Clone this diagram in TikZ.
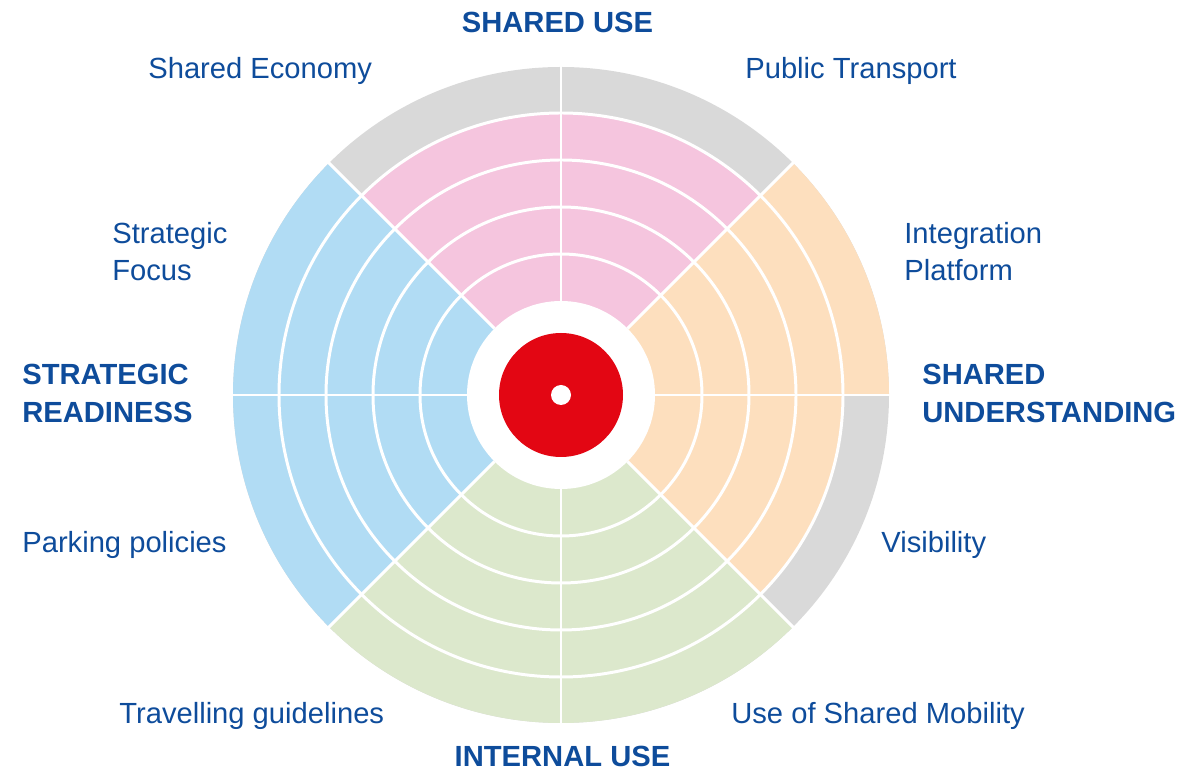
\documentclass[tikz,border=0pt]{standalone}
\usepackage{fontspec}
\setmainfont{Liberation Sans}
\usepackage{tikz}
\usetikzlibrary{positioning}
\definecolor{labelblue}{RGB}{14,76,155}
\definecolor{ringgray}{RGB}{217,217,217}
\definecolor{ringpink}{RGB}{245,197,222}
\definecolor{ringblue}{RGB}{177,220,244}
\definecolor{ringorange}{RGB}{253,223,190}
\definecolor{ringgreen}{RGB}{220,232,204}
\definecolor{targetred}{RGB}{227,6,19}

\begin{document}
\begin{tikzpicture}[
  x=0.02cm, y=0.02cm,
  item/.style={
    inner sep=0pt,
    text=labelblue,
    align=left,
    font=\fontsize{16.6pt}{21.6pt}\selectfont
  },
  pillar/.style={
    item,
    font=\fontsize{16.6pt}{21.6pt}\selectfont\bfseries
  },
  divider/.style={white, line width=1.7pt}
]
\useasboundingbox (-561,-378) rectangle (624,395);

% background disc, then each segment filled up to its level
\fill[ringgray] (0,0) circle[radius=328];
\foreach \a/\r/\col in {90/282/ringpink, 45/282/ringpink, 0/328/ringorange, -45/282/ringorange,
                        -90/328/ringgreen, -135/328/ringgreen, 180/328/ringblue, 135/328/ringblue}
  \fill[\col] (0,0) -- (\a:\r) arc[start angle=\a, end angle=\a+45, radius=\r] -- cycle;

\foreach \r in {141,188,235,282}
  \draw[divider] (0,0) circle[radius=\r];
\foreach \a in {0,45,...,315}
  \draw[divider] (\a:94) -- (\a:330);

\fill[white] (0,0) circle[radius=94];
\fill[targetred] (0,0) circle[radius=62];
\fill[white] (0,0) circle[radius=10];

% multi-line labels sit on the baseline of their last line
\node[pillar, anchor=base] (shareduse) at (-3.5,362) {SHARED USE};
\node[pillar, anchor=base] (internaluse) at (1.5,-371) {INTERNAL USE};
\node[pillar, anchor=base west] (readiness) at (-539,-27.3) {STRATEGIC\\READINESS};
\node[pillar, anchor=base west] (understanding) at (361,-27.3) {SHARED\\UNDERSTANDING};

\node[item, anchor=base west] (economy) at (-413,316) {Shared Economy};
\node[item, anchor=base west] (transport) at (184,316) {Public Transport};
\node[item, anchor=base west] (focus) at (-449,114) {Strategic\\Focus};
\node[item, anchor=base west] (platform) at (343,114) {Integration\\Platform};
\node[item, anchor=base west] (parking) at (-539,-157.5) {Parking policies};
\node[item, anchor=base west] (visibility) at (320,-157.5) {Visibility};
\node[item, anchor=base west] (guidelines) at (-442,-328.5) {Travelling guidelines};
\node[item, anchor=base west] (mobility) at (170,-328.5) {Use of Shared Mobility};
\end{tikzpicture}
\end{document}
